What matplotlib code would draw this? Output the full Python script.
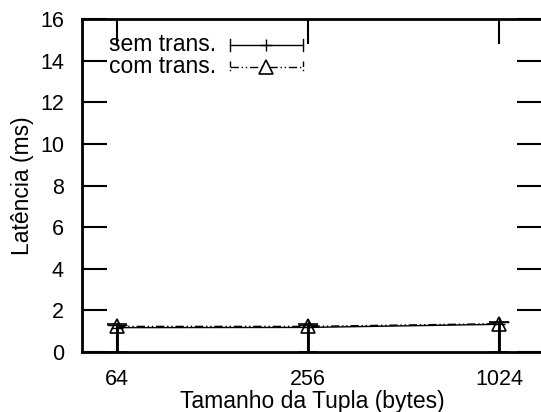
import matplotlib
matplotlib.use("Agg")
import matplotlib.pyplot as plt
from matplotlib.lines import Line2D
import numpy as np

plt.rcParams['font.family'] = ['Liberation Sans', 'DejaVu Sans']

# data
sizes = [64, 256, 1024]
sem_trans = [1.17, 1.18, 1.33]
sem_lo = [0.0, 0.0, 0.0]
sem_hi = [1.30, 1.30, 1.42]
com_trans = [1.23, 1.23, 1.36]
com_lo = [0.0, 0.0, 0.0]
com_hi = [1.33, 1.33, 1.45]
yticks = [0, 2, 4, 6, 8, 10, 12, 14, 16]

FS = 16.5
TFS = 15.5

fig = plt.figure(figsize=(5.41, 4.12), dpi=100)
ax = fig.add_axes([82 / 541, 60 / 412, 460 / 541, 333 / 412])

x = np.array(sizes)
s = np.array(sem_trans)
c = np.array(com_trans)

# sem trans.: solid line, '+' points, error bars
ax.errorbar(x, s, yerr=[s - np.array(sem_lo), np.array(sem_hi) - s],
            color="black", lw=1, marker="+", ms=8, mew=1,
            capsize=7, elinewidth=2, capthick=1.5)
# com trans.: dash-dot line, open triangles
ax.errorbar(x, c, yerr=[c - np.array(com_lo), np.array(com_hi) - c],
            color="black", lw=1, ls=(0, (6, 2, 1, 2, 1, 2)), marker="^",
            ms=10, mfc="none", mew=1.2, capsize=7, elinewidth=1,
            capthick=1.5)

ax.set_xscale("log", base=2)
ax.set_xlim(49.6, 1400)
ax.set_ylim(0, 16)
ax.set_xticks(sizes)
ax.set_xticklabels([str(v) for v in sizes])
ax.minorticks_off()
ax.set_yticks(yticks)

ax.tick_params(direction="in", length=18, width=1.5, labelsize=TFS,
               top=True, right=True)
ax.tick_params(axis="y", pad=13)
ax.tick_params(axis="x", pad=12)
for sp in ax.spines.values():
    sp.set_linewidth(2)

ax.set_xlabel("Tamanho da Tupla (bytes)", fontsize=FS, labelpad=0)
ax.set_ylabel("Latência (ms)", fontsize=FS, labelpad=4)

# gnuplot style key
tr = ax.transAxes
def fx(px):
    return (px - 82) / 460
def fy(py):
    return (352 - py) / 333

ax.text(fx(216), fy(44), "sem trans.", transform=tr, ha="right",
        va="center", fontsize=FS)
ax.text(fx(216), fy(66), "com trans.", transform=tr, ha="right",
        va="center", fontsize=FS)

y1 = fy(45)
ax.add_line(Line2D([fx(230), fx(303)], [y1, y1], transform=tr,
                   color="black", lw=1))
for px in (230, 303):
    ax.add_line(Line2D([fx(px), fx(px)], [fy(39), fy(51)], transform=tr,
                       color="black", lw=1))
ax.add_line(Line2D([fx(266)], [y1], transform=tr, color="black",
                   marker="+", ms=8, mew=1))

y2 = fy(67)
ax.add_line(Line2D([fx(230), fx(303)], [y2, y2], transform=tr,
                   color="black", lw=1, ls=(0, (6, 2, 1, 2, 1, 2))))
for px in (230, 303):
    ax.add_line(Line2D([fx(px), fx(px)], [fy(61), fy(73)], transform=tr,
                       color="black", lw=1, ls=(0, (4, 2, 1, 2))))
ax.add_line(Line2D([fx(266)], [y2], transform=tr, color="black",
                   marker="^", ms=10, mfc="white", mew=1.2))

fig.savefig("out.png", dpi=100)
